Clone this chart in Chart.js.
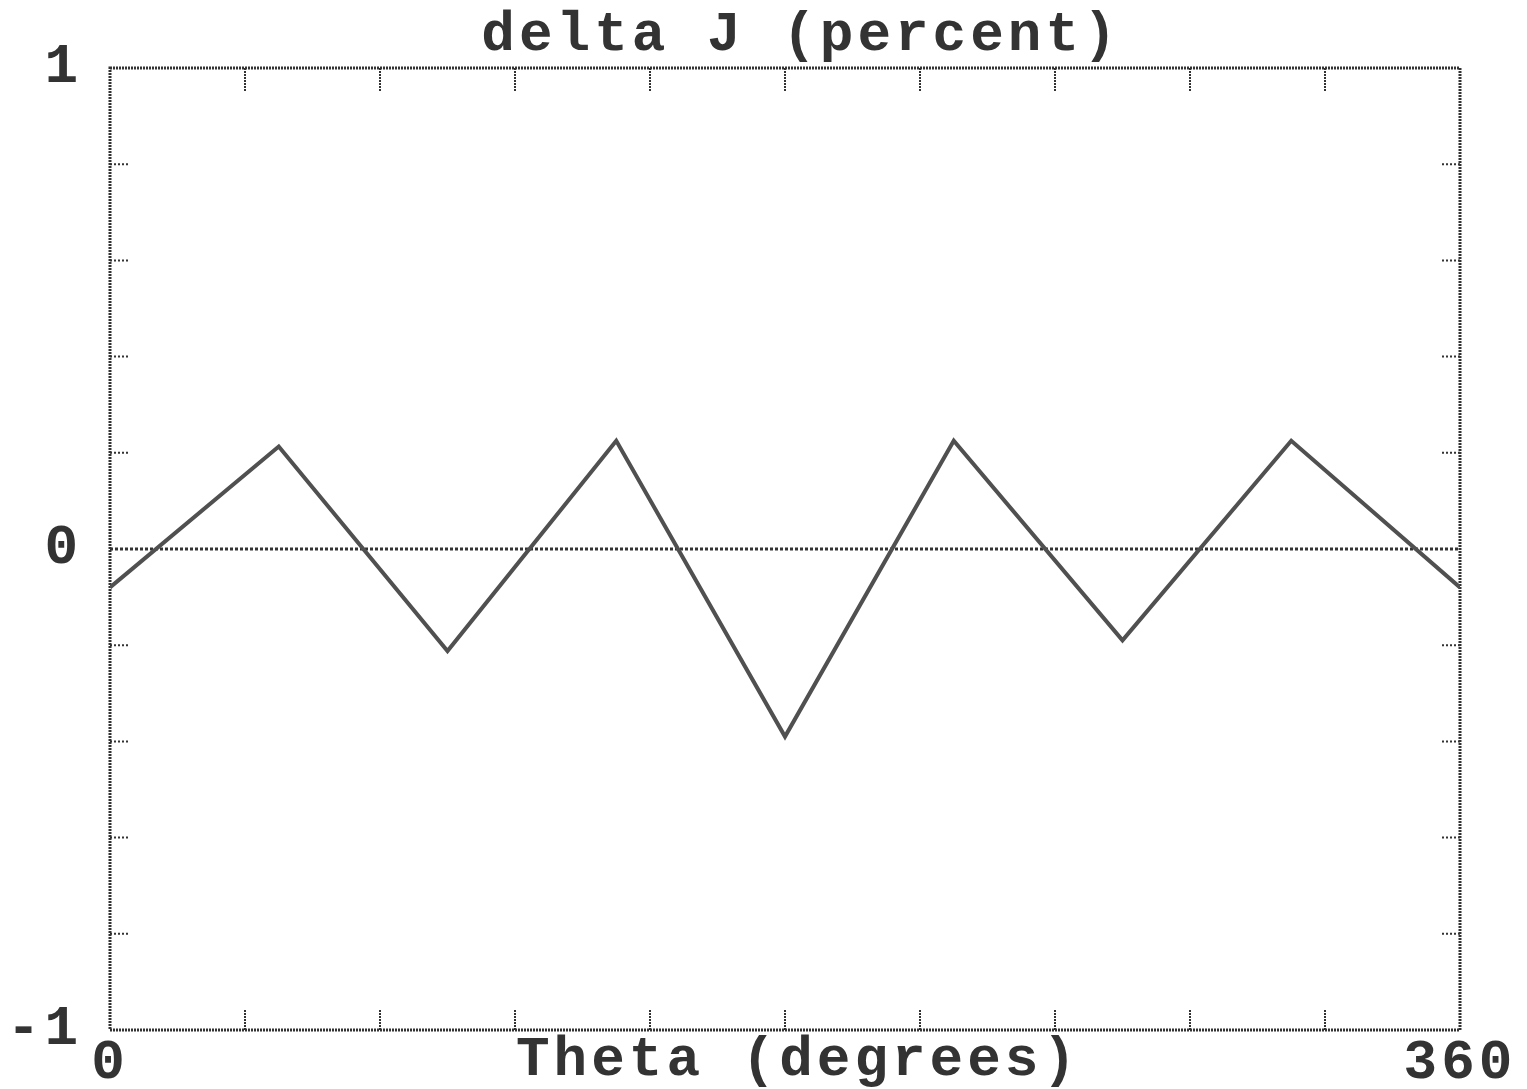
<!DOCTYPE html>
<html>
<head>
<meta charset="utf-8">
<title>delta J (percent)</title>
<script src="https://cdn.jsdelivr.net/npm/chart.js@4.4.1/dist/chart.umd.min.js"></script>
<style>
  html, body { margin: 0; padding: 0; background: #fff; }
  #wrap { width: 1527px; height: 1089px; }
</style>
</head>
<body>
<div id="wrap"><canvas id="myChart"></canvas></div>
<script>
const theta = [0, 45, 90, 135, 180, 225, 270, 315, 360];
const deltaJ = [-0.08, 0.213, -0.212, 0.225, -0.39, 0.225, -0.19, 0.225, -0.08];
const xTickLabels = { 0: "0", 360: "360" };
const yTickLabels = { "-1": "-1", "0": "0", "1": "1" };
const chartTitle = "delta J (percent)";
const xTitle = "Theta (degrees)";

const ink = "#333";
const fontFamily = "'Liberation Mono', 'Courier New', monospace";
const font = { family: fontFamily, size: 56, weight: "bold", lineHeight: 1 };

function labelFor(table, v) {
  const key = String(Math.round(v * 1000) / 1000);
  return table[key] !== undefined ? table[key] : "";
}

// dotted frame, inward ticks, dotted zero line and the two titles
const framePlugin = {
  id: "frame",
  beforeDraw(chart) {
    chart.ctx.letterSpacing = "4px";
  },
  beforeDatasetsDraw(chart) {
    const c = chart.ctx;
    const a = chart.chartArea;
    const xs = chart.scales.x;
    const ys = chart.scales.y;
    c.save();
    c.strokeStyle = "#333";

    c.lineWidth = 3;
    c.setLineDash([2, 1]);
    c.strokeRect(a.left, a.top, a.right - a.left, a.bottom - a.top);

    // y stubs every 0.2
    c.lineWidth = 2;
    c.setLineDash([2, 2]);
    ys.ticks.forEach((t) => {
      if (Math.abs(t.value) > 0.999 || Math.abs(t.value) < 0.001) return;
      const y = ys.getPixelForValue(t.value);
      c.beginPath();
      c.moveTo(a.left, y);
      c.lineTo(a.left + 20, y);
      c.moveTo(a.right, y);
      c.lineTo(a.right - 20, y);
      c.stroke();
    });

    // zero line
    c.lineWidth = 3;
    c.setLineDash([3, 2]);
    const y0 = ys.getPixelForValue(0);
    c.beginPath();
    c.moveTo(a.left, y0);
    c.lineTo(a.right, y0);
    c.stroke();

    // x ticks every 36 degrees, top and bottom
    c.setLineDash([2, 1]);
    c.lineWidth = 2;
    xs.ticks.forEach((t) => {
      if (t.value <= 0 || t.value >= 360) return;
      const x = xs.getPixelForValue(t.value);
      c.beginPath();
      c.moveTo(x, a.top);
      c.lineTo(x, a.top + 23);
      c.moveTo(x, a.bottom);
      c.lineTo(x, a.bottom - 21);
      c.stroke();
    });
    c.restore();
  },
  afterDraw(chart) {
    const c = chart.ctx;
    const a = chart.chartArea;
    const mid = (a.left + a.right) / 2;
    c.save();
    c.letterSpacing = "4px";
    c.fillStyle = ink;
    c.font = "bold 56px " + fontFamily;
    c.textAlign = "center";
    c.textBaseline = "alphabetic";
    c.fillText(chartTitle, mid + 16, 50);
    c.fillText(xTitle, mid + 13, 1075);
    c.restore();
  },
};

const data = {
  datasets: [
    {
      label: "delta J",
      data: theta.map((t, i) => ({ x: t, y: deltaJ[i] })),
      borderColor: "#505050",
      borderWidth: 4,
      pointRadius: 0,
      tension: 0,
      fill: false,
    },
  ],
};

const config = {
  type: "line",
  data: data,
  options: {
    responsive: true,
    maintainAspectRatio: false,
    animation: false,
    layout: { padding: { left: 0, right: 67, top: 68, bottom: 0 } },
    plugins: {
      legend: { display: false },
      tooltip: { enabled: false },
      title: { display: false },
    },
    scales: {
      x: {
        type: "linear",
        min: 0,
        max: 360,
        grid: { display: false },
        border: { display: false },
        ticks: {
          stepSize: 36,
          autoSkip: false,
          maxRotation: 0,
          padding: -2,
          color: ink,
          font: font,
          callback: (v) => labelFor(xTickLabels, v),
        },
        afterFit: (s) => {
          s.height = 59;
        },
      },
      y: {
        min: -1,
        max: 1,
        grid: { display: false },
        border: { display: false },
        ticks: {
          stepSize: 0.2,
          autoSkip: false,
          padding: 20,
          color: ink,
          font: font,
          callback: (v) => labelFor(yTickLabels, v),
        },
        afterFit: (s) => {
          s.width = 110;
        },
      },
    },
  },
  plugins: [framePlugin],
};

const myChart = new Chart(document.getElementById("myChart"), config);
</script>
</body>
</html>
